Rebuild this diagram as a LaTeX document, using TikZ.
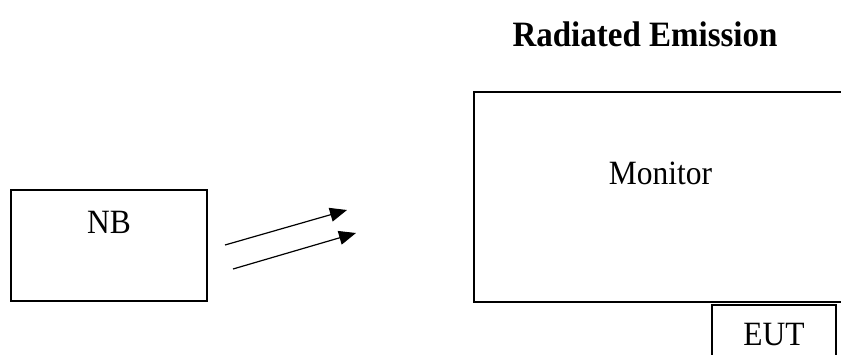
\documentclass[tikz,border=0pt]{standalone}
\usepackage{fontspec}
\setmainfont{Liberation Serif}
\usetikzlibrary{arrows.meta, positioning}
\tikzset{
  every picture/.style={line width=1.6pt},
  box/.style={draw=black, rectangle, inner sep=0pt},
  lbl/.style={font=\fontsize{31.5}{36}\selectfont, inner sep=0pt, yscale=1.08, transform shape},
  title/.style={font=\fontsize{33}{38}\selectfont\bfseries, inner sep=0pt, yscale=1.08, transform shape},
  wave/.style={-{Triangle[length=17pt, width=14pt]}, line width=1.2pt},
}
\begin{document}
\begin{tikzpicture}[x=1pt, y=-1pt]
  \clip (0,0) rectangle (841,354);
  \node[title, anchor=base] (title) at (645,46) {Radiated Emission};
  % notebook
  \node[box, minimum width=196pt, minimum height=111pt] (nb) at (109,245.5) {};
  \node[lbl, below=21pt of nb.north] (nbtext) {NB};
  % monitor and EUT
  \node[box, minimum width=373pt, minimum height=210pt] (mon) at (660.5,197) {};
  \node[lbl, below=70pt of mon.north] (montext) {Monitor};
  \node[box, minimum width=124pt, minimum height=80pt] (eut) at (774,345) {};
  \node[lbl, below=18pt of eut.north] (euttext) {EUT};
  % emission arrows
  \coordinate (a1) at (225,245);
  \coordinate (b1) at (347,210);
  \coordinate (a2) at (233,269);
  \coordinate (b2) at (356,233);
  \draw[wave] (a1) -- (b1);
  \draw[wave] (a2) -- (b2);
\end{tikzpicture}
\end{document}
